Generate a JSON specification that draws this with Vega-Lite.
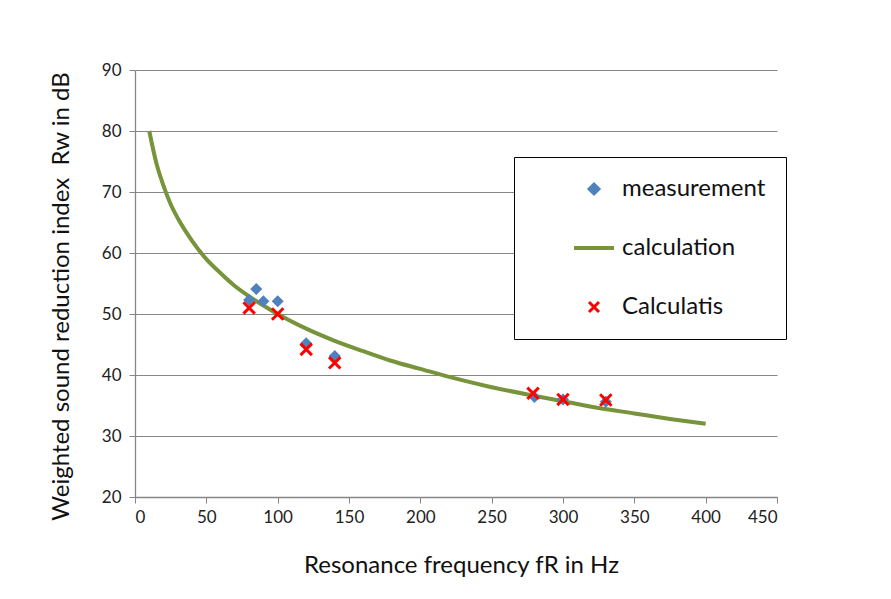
{
  "$schema": "https://vega.github.io/schema/vega-lite/v6.json",
  "width": 642,
  "height": 427,
  "autosize": {"type": "none"},
  "padding": {"left": 135, "top": 70, "right": 114, "bottom": 102},
  "background": "white",
  "config": {
    "font": "Lato",
    "view": {"stroke": null},
    "axis": {
      "labelFont": "Lato",
      "titleFont": "Lato",
      "labelFontSize": 17,
      "labelColor": "#222222",
      "titleFontSize": 24,
      "titleFontWeight": "normal",
      "titleColor": "#111111",
      "domainColor": "#868686",
      "tickColor": "#868686",
      "gridColor": "#868686",
      "gridOpacity": 1,
      "tickSize": 6,
      "domainWidth": 1.3,
      "gridWidth": 1.2
    }
  },
  "data": {
    "values": [
      {"f": 10, "R": 80, "series": "calculation"},
      {"f": 15, "R": 74.7, "series": "calculation"},
      {"f": 20, "R": 71, "series": "calculation"},
      {"f": 25, "R": 68, "series": "calculation"},
      {"f": 30, "R": 65.7, "series": "calculation"},
      {"f": 40, "R": 62, "series": "calculation"},
      {"f": 50, "R": 59, "series": "calculation"},
      {"f": 60, "R": 56.7, "series": "calculation"},
      {"f": 70, "R": 54.6, "series": "calculation"},
      {"f": 80, "R": 52.9, "series": "calculation"},
      {"f": 90, "R": 51.4, "series": "calculation"},
      {"f": 100, "R": 50, "series": "calculation"},
      {"f": 120, "R": 47.6, "series": "calculation"},
      {"f": 140, "R": 45.6, "series": "calculation"},
      {"f": 160, "R": 43.9, "series": "calculation"},
      {"f": 180, "R": 42.3, "series": "calculation"},
      {"f": 200, "R": 41, "series": "calculation"},
      {"f": 225, "R": 39.4, "series": "calculation"},
      {"f": 250, "R": 38, "series": "calculation"},
      {"f": 275, "R": 36.8, "series": "calculation"},
      {"f": 300, "R": 35.7, "series": "calculation"},
      {"f": 325, "R": 34.6, "series": "calculation"},
      {"f": 350, "R": 33.7, "series": "calculation"},
      {"f": 375, "R": 32.8, "series": "calculation"},
      {"f": 400, "R": 32, "series": "calculation"},
      {"f": 80, "R": 52.3, "series": "measurement"},
      {"f": 85, "R": 54.1, "series": "measurement"},
      {"f": 90, "R": 52.1, "series": "measurement"},
      {"f": 100, "R": 52.1, "series": "measurement"},
      {"f": 120, "R": 45.2, "series": "measurement"},
      {"f": 140, "R": 43.1, "series": "measurement"},
      {"f": 280, "R": 36.4, "series": "measurement"},
      {"f": 300, "R": 36, "series": "measurement"},
      {"f": 330, "R": 35.6, "series": "measurement"},
      {"f": 80, "R": 51, "series": "Calculatis"},
      {"f": 100, "R": 50, "series": "Calculatis"},
      {"f": 120, "R": 44.2, "series": "Calculatis"},
      {"f": 140, "R": 42, "series": "Calculatis"},
      {"f": 279, "R": 37, "series": "Calculatis"},
      {"f": 300, "R": 36, "series": "Calculatis"},
      {"f": 330, "R": 35.9, "series": "Calculatis"}
    ]
  },
  "encoding": {
    "x": {
      "field": "f",
      "type": "quantitative",
      "scale": {"domain": [0, 450], "nice": false, "zero": false},
      "axis": {
        "title": "Resonance frequency fR in Hz",
        "values": [0, 50, 100, 150, 200, 250, 300, 350, 400, 450],
        "grid": false,
        "labelPadding": 6,
        "titlePadding": 28,
        "titleX": 326
      }
    },
    "y": {
      "field": "R",
      "type": "quantitative",
      "scale": {"domain": [20, 90], "nice": false, "zero": false},
      "axis": {
        "title": "Weighted sound reduction index \u00a0Rw in dB",
        "values": [20, 30, 40, 50, 60, 70, 80, 90],
        "grid": true,
        "labelPadding": 8,
        "titlePadding": 28,
        "titleY": 226
      }
    },
    "color": {
      "field": "series",
      "type": "nominal",
      "scale": {
        "domain": ["measurement", "calculation", "Calculatis"],
        "range": ["#4F81BD", "#77933C", "#FF0000"]
      },
      "legend": {
        "title": null,
        "orient": "none",
        "legendX": 379,
        "legendY": 87,
        "strokeColor": "#000000",
        "fillColor": "white",
        "padding": 20,
        "symbolSize": 1600,
        "symbolOffset": 48,
        "rowPadding": 35,
        "labelFontSize": 24,
        "labelFont": "Lato",
        "labelColor": "#111111",
        "labelOffset": 16,
        "encode": {
          "symbols": {
            "update": {
              "shape": {"signal": "datum.value === 'measurement' ? 'diamond' : datum.value === 'calculation' ? 'M-1,0L1,0' : 'M-1,-1L1,1M-1,1L1,-1'"},
              "fill": {"signal": "datum.value === 'measurement' ? '#4F81BD' : 'transparent'"},
              "stroke": {"signal": "datum.value === 'measurement' ? 'transparent' : datum.value === 'calculation' ? '#77933C' : '#FF0000'"},
              "strokeWidth": {"signal": "datum.value === 'calculation' ? 4 : 3"},
              "size": {"signal": "datum.value === 'calculation' ? 1600 : 100"},
              "opacity": {"value": 1}
            }
          }
        }
      }
    }
  },
  "layer": [
    {
      "transform": [{"filter": "datum.series === 'calculation'"}],
      "mark": {"type": "line", "strokeWidth": 4, "interpolate": "monotone"}
    },
    {
      "transform": [{"filter": "datum.series === 'measurement'"}],
      "mark": {"type": "point", "shape": "diamond", "filled": true, "size": 144, "opacity": 1}
    },
    {
      "transform": [{"filter": "datum.series === 'Calculatis'"}],
      "mark": {"type": "point", "shape": "M-1,-1L1,1M-1,1L1,-1", "filled": false, "size": 130, "strokeWidth": 3, "opacity": 1}
    }
  ]
}
